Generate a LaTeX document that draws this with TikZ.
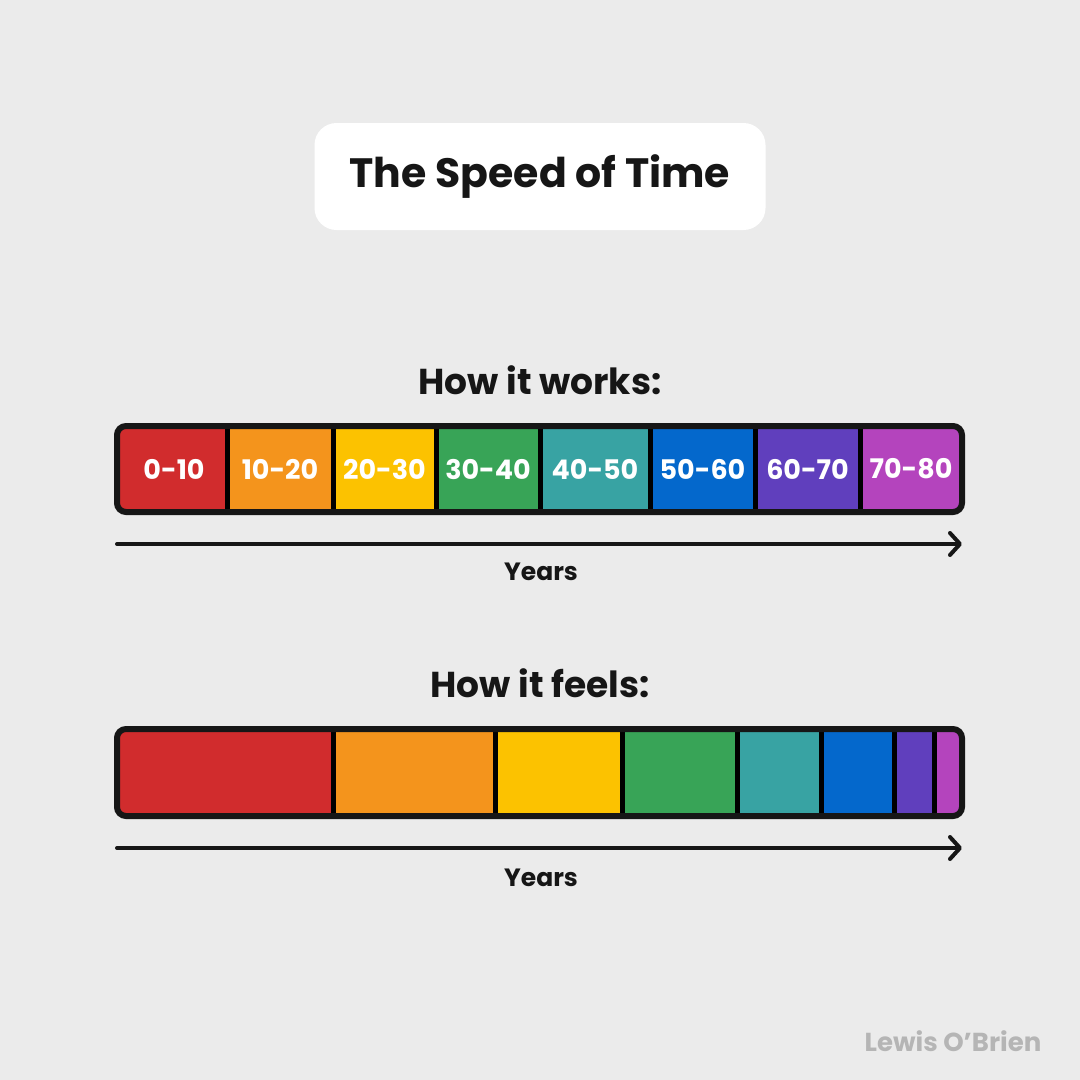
\documentclass[tikz,border=0pt]{standalone}
\usepackage{fontspec}
\setmainfont{Poppins}
\usetikzlibrary{arrows.meta}
\definecolor{bg}{HTML}{EBEBEB}
\definecolor{cred}{HTML}{D12C2D}
\definecolor{corange}{HTML}{F4941C}
\definecolor{cyellow}{HTML}{FCC200}
\definecolor{cgreen}{HTML}{38A457}
\definecolor{cteal}{HTML}{38A3A3}
\definecolor{cblue}{HTML}{0468CC}
\definecolor{cpurple}{HTML}{603FBD}
\definecolor{cmagenta}{HTML}{B444BD}
\definecolor{ink}{HTML}{161616}
\definecolor{sig}{HTML}{B5B5B5}
\tikzset{
  seg/.style={rectangle, inner sep=0pt, outer sep=0pt, anchor=north west, text=white,
    font=\fontsize{27}{30}\selectfont\bfseries},
  divider/.style={line width=5pt, draw=black},
  frame/.style={line width=6pt, draw=ink, rounded corners=9pt},
  timeline/.style={line width=4pt, draw=ink, line cap=round,
    -{Straight Barb[length=10pt,width=22pt,line width=4pt,round]}},
  heading/.style={text=ink, font=\fontsize{36}{42}\selectfont\bfseries},
  axislabel/.style={text=ink, font=\fontsize{25}{30}\selectfont\bfseries},
}
\begin{document}
\begin{tikzpicture}[x=1pt,y=-1pt]
\useasboundingbox[fill=bg] (0,0) rectangle (1080,1080);
% title
\node[fill=white, rounded corners=22pt, minimum width=451pt, minimum height=107pt, inner sep=0pt,
  text=ink, font=\fontsize{41}{48}\selectfont\bfseries] (title) at (540,176.5) {\raisebox{-3pt}{The Speed of Time}};
% top
\node[heading] (works) at (540,380) {How it works:};
\begin{scope}
\clip[rounded corners=9pt] (117,426) rectangle (962,512);
\node[seg, fill=cred, minimum width=110pt, minimum height=86pt] (a1) at (117,426) {\hspace*{4pt}0-10};
\node[seg, fill=corange, minimum width=106pt, minimum height=86pt] (a2) at (227,426) {10-20};
\node[seg, fill=cyellow, minimum width=103pt, minimum height=86pt] (a3) at (333,426) {20-30};
\node[seg, fill=cgreen, minimum width=104pt, minimum height=86pt] (a4) at (436,426) {30-40};
\node[seg, fill=cteal, minimum width=110pt, minimum height=86pt] (a5) at (540,426) {40-50};
\node[seg, fill=cblue, minimum width=105pt, minimum height=86pt] (a6) at (650,426) {50-60};
\node[seg, fill=cpurple, minimum width=105pt, minimum height=86pt] (a7) at (755,426) {60-70};
\node[seg, fill=cmagenta, minimum width=102pt, minimum height=86pt] (a8) at (860,426) {70-80};
\end{scope}
\foreach \n in {a1,a2,a3,a4,a5,a6,a7}{\draw[divider] (\n.north east) -- (\n.south east);}
\draw[frame] (a1.north west) rectangle (a8.south east);
\coordinate (ta) at (117,544);
\coordinate (tb) at (962,544);
\draw[timeline] (ta) -- (tb);
\node[axislabel] (yearsA) at (541,572) {Years};
% bottom
\node[heading] (feels) at (540,683) {How it feels:};
\begin{scope}
\clip[rounded corners=9pt] (117,729) rectangle (962,816);
\node[seg, fill=cred, minimum width=216pt, minimum height=87pt] (b1) at (117,729) {};
\node[seg, fill=corange, minimum width=162pt, minimum height=87pt] (b2) at (333,729) {};
\node[seg, fill=cyellow, minimum width=127pt, minimum height=87pt] (b3) at (495,729) {};
\node[seg, fill=cgreen, minimum width=115pt, minimum height=87pt] (b4) at (622,729) {};
\node[seg, fill=cteal, minimum width=84pt, minimum height=87pt] (b5) at (737,729) {};
\node[seg, fill=cblue, minimum width=73pt, minimum height=87pt] (b6) at (821,729) {};
\node[seg, fill=cpurple, minimum width=40pt, minimum height=87pt] (b7) at (894,729) {};
\node[seg, fill=cmagenta, minimum width=28pt, minimum height=87pt] (b8) at (934,729) {};
\end{scope}
\foreach \n in {b1,b2,b3,b4,b5,b6,b7}{\draw[divider] (\n.north east) -- (\n.south east);}
\draw[frame] (b1.north west) rectangle (b8.south east);
\coordinate (tc) at (117,848);
\coordinate (td) at (962,848);
\draw[timeline] (tc) -- (td);
\node[axislabel] (yearsB) at (541,878) {Years};
% signature
\node[text=sig, font=\fontsize{26}{30}\selectfont\bfseries] (author) at (953,1041) {Lewis O’Brien};
\end{tikzpicture}
\end{document}
